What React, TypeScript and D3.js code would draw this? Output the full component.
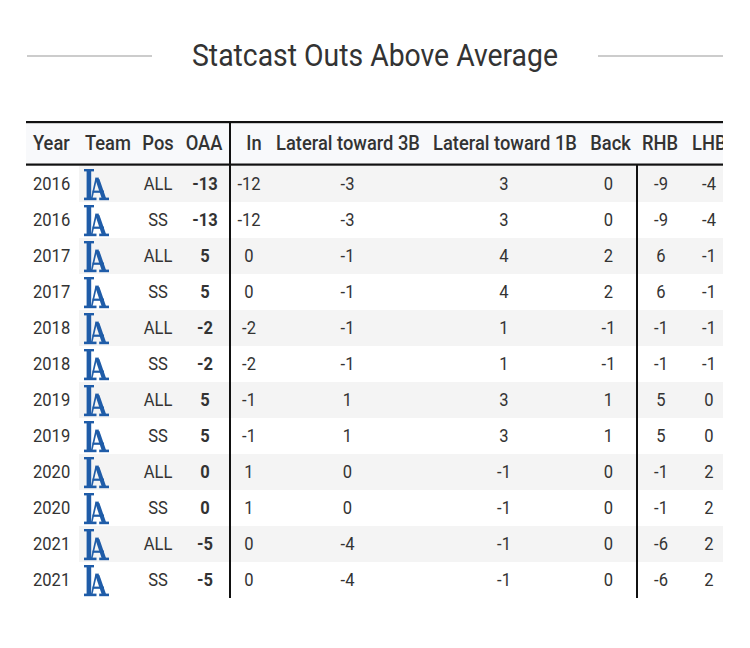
import React from "react";
import * as d3 from "d3";

const title = "Statcast Outs Above Average";
const headers = ["Year", "Team", "Pos", "OAA", "In", "Lateral toward 3B", "Lateral toward 1B", "Back", "RHB", "LHB"];
const years = [2016, 2016, 2017, 2017, 2018, 2018, 2019, 2019, 2020, 2020, 2021, 2021];
const positions = ["ALL", "SS", "ALL", "SS", "ALL", "SS", "ALL", "SS", "ALL", "SS", "ALL", "SS"];
const oaa = [-13, -13, 5, 5, -2, -2, 5, 5, 0, 0, -5, -5];
const inVals = [-12, -12, 0, 0, -2, -2, -1, -1, 1, 1, 0, 0];
const lat3B = [-3, -3, -1, -1, -1, -1, 1, 1, 0, 0, -4, -4];
const lat1B = [3, 3, 4, 4, 1, 1, 3, 3, -1, -1, -1, -1];
const back = [0, 0, 2, 2, -1, -1, 1, 1, 0, 0, 0, 0];
const rhb = [-9, -9, 6, 6, -1, -1, 5, 5, -1, -1, -6, -6];
const lhb = [-4, -4, -1, -1, -1, -1, 0, 0, 2, 2, 2, 2];

// layout
const FONT = "Roboto, 'Noto Sans', sans-serif";
const TXT = "#333333";
const tableLeft = 26;
const tableRight = 723;
const headTop = 122;
const headBottom = 164;
const bodyTop = 166;
const bodyBottom = 598;

type ColLayout = { hx: number; hAnchor: string; vx: number; vAnchor: string; bold?: boolean };
const colLayout: ColLayout[] = [
  { hx: 33, hAnchor: "start", vx: 33, vAnchor: "start" },
  { hx: 85, hAnchor: "start", vx: 84, vAnchor: "start" },
  { hx: 158, hAnchor: "middle", vx: 158, vAnchor: "middle" },
  { hx: 204, hAnchor: "middle", vx: 205, vAnchor: "middle", bold: true },
  { hx: 254, hAnchor: "middle", vx: 249, vAnchor: "middle" },
  { hx: 348, hAnchor: "middle", vx: 347.5, vAnchor: "middle" },
  { hx: 505, hAnchor: "middle", vx: 504, vAnchor: "middle" },
  { hx: 610.5, hAnchor: "middle", vx: 608.5, vAnchor: "middle" },
  { hx: 660, hAnchor: "middle", vx: 661, vAnchor: "middle" },
  { hx: 692, hAnchor: "start", vx: 709, vAnchor: "middle" },
];

const fmt = (v: number) => (v < 0 ? "-" + Math.abs(v) : String(v));

function T({ x, y, anchor = "start", size = 18, sx = 0.92, weight = 400, fill = TXT, children }: any) {
  return (
    <text
      transform={`translate(${x},${y}) scale(${sx},1)`}
      textAnchor={anchor}
      fontFamily={FONT}
      fontSize={size}
      fontWeight={weight}
      fill={fill}
    >
      {children}
    </text>
  );
}

function Logo({ x, y }: { x: number; y: number }) {
  const c = "#1f5ca8";
  return (
    <g transform={`translate(${x},${y})`} fill={c}>
      {/* L */}
      <rect x={0} y={0} width={10} height={2.4} />
      <rect x={2.6} y={0} width={4.6} height={30} />
      <rect x={0} y={28.6} width={12.5} height={2.6} />
      {/* A right leg */}
      <path d="M11.2,10 L15.4,10 L22,29 L17.6,29 Z" />
      {/* A left leg */}
      <path d="M11.2,10 L13,10 L8.6,29 L7,29 Z" />
      {/* crossbar */}
      <rect x={8.5} y={21.6} width={11.5} height={2.2} />
      {/* A feet */}
      <rect x={15.2} y={28.6} width={9.8} height={2.6} />
      <rect x={11.2} y={8.6} width={3.6} height={1.6} />
    </g>
  );
}

export default function App() {
  const n = years.length;
  const y = d3.scaleBand<number>().domain(d3.range(n)).range([bodyTop, bodyBottom]);
  const bw = y.bandwidth();
  const numCols = [oaa, inVals, lat3B, lat1B, back, rhb, lhb];

  return (
    <svg
      width={750}
      height={648}
      style={{ position: "absolute", left: 0, top: 0, background: "#ffffff" }}
    >
      <defs>
        <clipPath id="tclip">
          <rect x={tableLeft} y={0} width={tableRight - tableLeft} height={648} />
        </clipPath>
      </defs>
      {/* title */}
      <line x1={27} x2={152} y1={56} y2={56} stroke="#cccccc" strokeWidth={2} />
      <line x1={598} x2={723} y1={56} y2={56} stroke="#cccccc" strokeWidth={2} />
      <T x={375} y={66} anchor="middle" size={31} sx={0.915}>{title}</T>

      <g clipPath="url(#tclip)">
        {/* header background */}
        <rect x={tableLeft} y={headTop} width={760} height={headBottom - headTop} fill="#f8f9fb" />
        {/* striped rows */}
        {d3.range(n).map((i) =>
          i % 2 === 0 ? (
            <rect key={"s" + i} x={79} y={y(i)!} width={700} height={bw} fill="#f4f4f4" />
          ) : null
        )}
        {/* header labels */}
        {headers.map((h, j) => (
          <T key={"h" + j} x={colLayout[j].hx} y={150} anchor={colLayout[j].hAnchor} size={19.5} sx={0.94} weight={500}>
            {h}
          </T>
        ))}
        {/* body */}
        {d3.range(n).map((i) => {
          const by = y(i)! + bw / 2 + 6.3;
          return (
            <g key={"r" + i}>
              <T x={colLayout[0].vx} y={by} anchor="start">{years[i]}</T>
              <Logo x={colLayout[1].vx} y={y(i)! + 3} />
              <T x={colLayout[2].vx} y={by} anchor="middle">{positions[i]}</T>
              {numCols.map((arr, k) => {
                const cl = colLayout[k + 3];
                return (
                  <T key={k} x={cl.vx} y={by} anchor={cl.vAnchor} weight={cl.bold ? 700 : 400}>
                    {fmt(arr[i])}
                  </T>
                );
              })}
            </g>
          );
        })}
        {/* rules */}
        <rect x={tableLeft} y={headTop - 1} width={760} height={2.2} fill="#111" />
        <rect x={tableLeft} y={headBottom - 0.5} width={760} height={2.2} fill="#111" />
        <rect x={229} y={headTop} width={2} height={bodyBottom - headTop} fill="#111" />
        <rect x={636} y={headBottom} width={2} height={bodyBottom - headBottom} fill="#111" />
      </g>
    </svg>
  );
}
